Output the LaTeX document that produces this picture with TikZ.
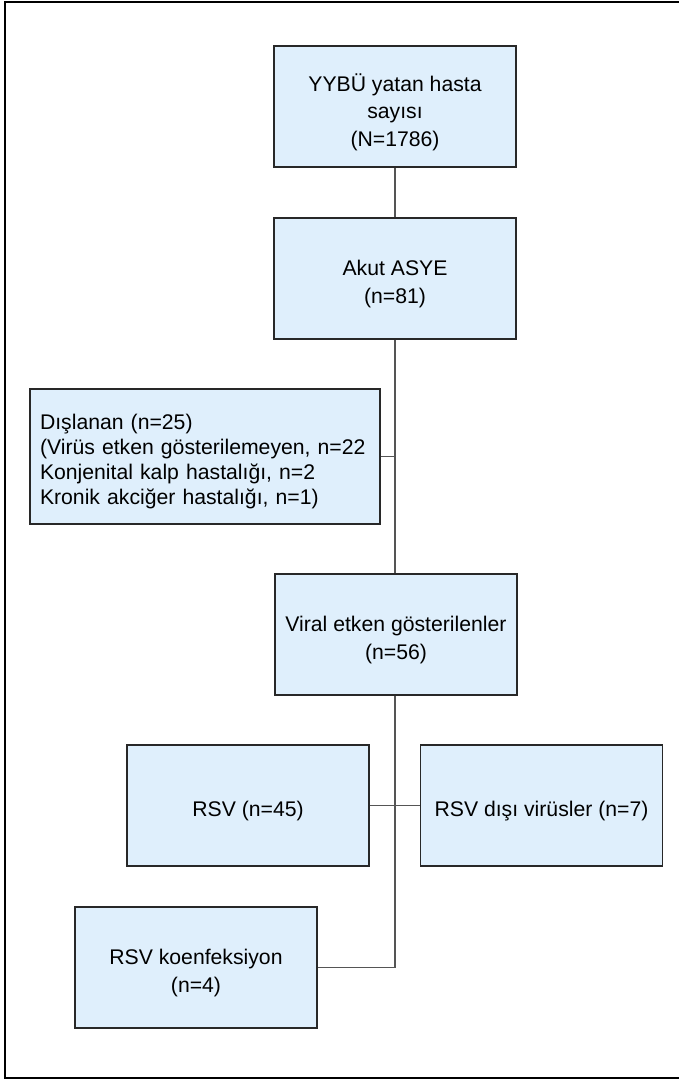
\documentclass[tikz,border=0pt]{standalone}
\usepackage{fontspec}
\setmainfont{Liberation Sans}
\definecolor{boxfill}{RGB}{223,239,252}
\definecolor{boxline}{RGB}{40,40,40}
\definecolor{linkline}{RGB}{85,85,85}
\begin{document}
\begin{tikzpicture}[x=1pt,y=-1pt,
  flowbox/.style={draw=boxline, line width=1.2pt, fill=boxfill,
    minimum width=242pt, minimum height=121pt, inner sep=0pt},
  boxtext/.style={align=center, inner sep=0pt, yshift=-5.5pt,
    font=\fontsize{21.2}{27.5}\selectfont},
  notetext/.style={boxtext, align=left, text width=330pt,
    font=\fontsize{21.2}{25}\selectfont},
  link/.style={draw=linkline, line width=1.2pt}]
\useasboundingbox (0,0) rectangle (679,1080);
% open outer frame (cut at the right edge)
\draw[line width=1.3pt] (679,2) -- (5,2) -- (5,1078) -- (679,1078);

% main column
\node[flowbox, label={[boxtext]center:{YYBÜ yatan hasta\\sayısı\\(N=1786)}}]
  (total) at (395,106.5) {};
\node[flowbox, label={[boxtext]center:{Akut ASYE\\(n=81)}}]
  (asye) at (395,278.5) {};
\node[flowbox, minimum width=350pt, minimum height=135pt,
  label={[notetext]center:{Dışlanan (n=25)\\(Virüs etken gösterilemeyen, n=22\\Konjenital kalp hastalığı, n=2\\Kronik akciğer hastalığı, n=1)}}]
  (excl) at (205,456.5) {};
\node[flowbox, label={[boxtext]center:{Viral etken gösterilenler\\(n=56)}}]
  (viral) at (396,634.5) {};
\node[flowbox, label={[boxtext]center:{RSV (n=45)}}]
  (rsv) at (248,805.5) {};
\node[flowbox, label={[boxtext]center:{RSV dışı virüsler (n=7)}}]
  (other) at (541.5,805.5) {};
\node[flowbox, label={[boxtext]center:{RSV koenfeksiyon\\(n=4)}}]
  (coinf) at (196,967.5) {};

% connectors
\draw[link] (total.south) -- (asye.north);
\draw[link] (asye.south) -- (asye.south |- viral.north);
\draw[link] (excl.east) -- (excl.east -| asye.south);
\draw[link] (viral.south -| asye.south) |- (coinf.east);
\draw[link] (rsv.east) -- (other.west);
\end{tikzpicture}
\end{document}
